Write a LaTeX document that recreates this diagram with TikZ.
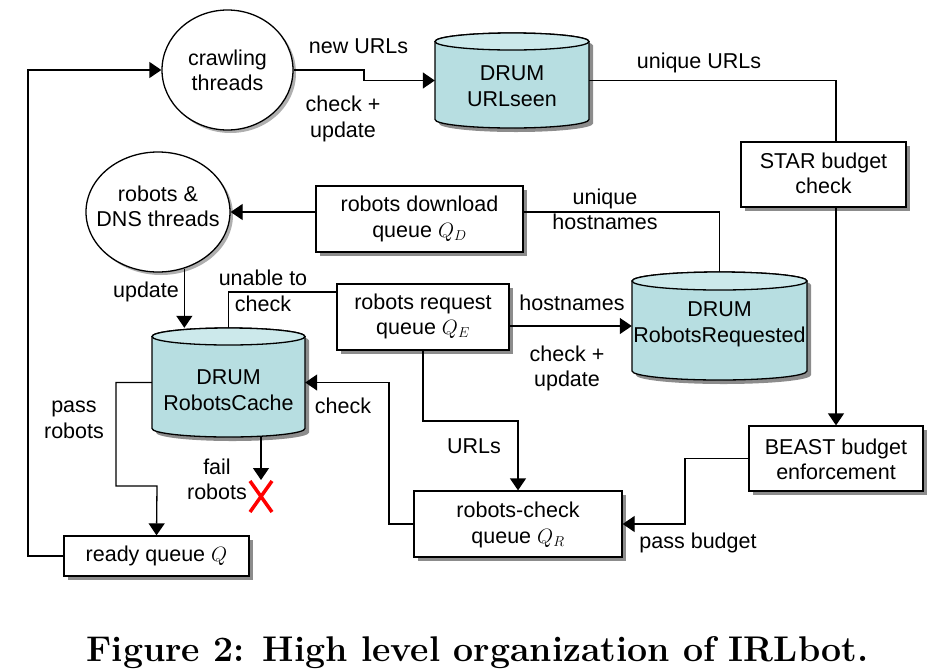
\documentclass[tikz,border=0pt]{standalone}
\usepackage{fontspec}
\newfontfamily\arialf{Liberation Sans}
\usetikzlibrary{shapes.geometric,arrows.meta,shadows,calc}
\definecolor{drumbody}{RGB}{183,222,225}
\definecolor{drumtop}{RGB}{204,233,235}
\definecolor{shcol}{RGB}{140,140,140}
\newcommand\drumcyl[5]{% cx, top, bottom, half width, end radius (px, y downward)
  \fill[shcol] (#1-#4+4,-#2-#5-4) -- (#1-#4+4,-#3+#5-4)
     arc[start angle=180,end angle=360,x radius=#4,y radius=#5]
     -- (#1+#4+4,-#2-#5-4)
     arc[start angle=0,end angle=180,x radius=#4,y radius=#5] -- cycle;
  \draw[ln,fill=drumbody] (#1-#4,-#2-#5) -- (#1-#4,-#3+#5)
     arc[start angle=180,end angle=360,x radius=#4,y radius=#5]
     -- (#1+#4,-#2-#5)
     arc[start angle=0,end angle=180,x radius=#4,y radius=#5] -- cycle;
  \draw[ln,fill=drumtop] (#1,-#2-#5) ellipse[x radius=#4,y radius=#5];
}
\begin{document}
\begin{tikzpicture}[x=1pt,y=1pt,
  ln/.style={line width=1.3pt,line join=miter},
  txt/.style={font=\arialf\fontsize{21.5}{25.5}\selectfont,align=center,inner sep=0pt},
  box/.style={ln,draw,fill=white,rectangle,inner sep=0pt,
     drop shadow={shadow xshift=4pt,shadow yshift=-4pt,fill=shcol,opacity=1}},
  ell/.style={ln,draw,fill=white,ellipse,inner sep=0pt,
     drop shadow={shadow xshift=3pt,shadow yshift=-3pt,fill=shcol!70,opacity=1}},
  inv/.style={rectangle,inner sep=0pt},
  arr/.style={ln,-{Triangle[length=12pt,width=16pt]}},
  lab/.style={txt},
]
\useasboundingbox (0,0) rectangle (933,-670);

% cylinders (drawn shapes) and their named nodes
\drumcyl{512}{33}{128}{77}{8.5}
\drumcyl{719.5}{272}{380}{87.5}{9}
\drumcyl{228.5}{328}{437}{76.5}{8.5}
\node[inv,minimum width=154pt,minimum height=95pt] (us) at (512,-80.5) {};
\node[inv,minimum width=175pt,minimum height=108pt] (rr) at (719.5,-326) {};
\node[inv,minimum width=153pt,minimum height=109pt] (rc) at (228.5,-382.5) {};
\node[txt] at (512,-86) {DRUM\\URLseen};
\node[txt] at (719.5,-324.5) {DRUM\\RobotsRequested};
\node[txt] at (228.5,-390) {DRUM\\RobotsCache};

% ellipses
\node[ell,minimum width=131pt,minimum height=120pt] (ct) at (227.5,-70) {};
\node[txt] at (227.5,-70.5) {crawling\\threads};
\node[ell,minimum width=144pt,minimum height=120pt] (dns) at (158,-212) {};
\node[txt] at (158,-206.5) {robots \&\\DNS threads};

% boxes
\node[box,minimum width=207pt,minimum height=66pt] (rdq) at (419.5,-219) {};
\node[txt] at (419.5,-219) {robots download\\queue $Q_D$};
\node[box,minimum width=172pt,minimum height=66pt] (rrq) at (423,-317) {};
\node[txt] at (423,-316.5) {robots request\\queue $Q_E$};
\node[box,minimum width=165pt,minimum height=65pt] (star) at (823.5,-174.5) {};
\node[txt] at (823.5,-173.5) {STAR budget\\check};
\node[box,minimum width=174pt,minimum height=65pt] (beast) at (836,-458.5) {};
\node[txt] at (836,-459.5) {BEAST budget\\enforcement};
\node[box,minimum width=208pt,minimum height=66pt] (rcq) at (518,-524) {};
\node[txt] at (518,-525) {robots-check\\queue $Q_R$};
\node[box,minimum width=185pt,minimum height=40pt] (ready) at (156.5,-556) {};
\node[txt] at (156.5,-556) {ready queue $Q$};

% connectors
\draw[arr] (ct.east) -- (364,-70) |- (us.west);
\draw[ln] (us.east) -| (beast.north |- star.north);
\draw[arr] (beast.north |- star.south) -- (beast.north);
\draw[arr] (beast.west) -- (685,-458.5) |- (rcq.east);
\draw[arr] (rrq.south) |- (518,-421) -- (rcq.north);
\draw[arr] (rcq.west) -- (389,-524) |- (rc.east);
\draw[arr] (rrq.east |- rr.west) -- (rr.west);
\draw[ln] (rr.north) |- (rdq.east |- dns.east);
\draw[arr] (rdq.west |- dns.east) -- (dns.east);
\draw[arr] (dns.-65) -- (dns.-65 |- rc.north);
\draw[ln] (rc.north) |- (rrq.west |- 0,-292);
\draw[arr] (rc.west) -- (116,-382.5) |- (157,-486) -- (ready.north);
\coordinate (failend) at (261,-480);
\draw[arr] (rc.south -| failend) -- (failend);
\draw[arr] (ready.west) -- (28,-556) |- (ct.west);

% red cross
\draw[red,line width=3.5pt] (250,-481) -- (272,-512) (272,-481) -- (250,-512);

% labels
\node[lab] at (358.5,-46) {new URLs};
\node[lab] at (343,-119) {check +\\update};
\node[lab] at (699,-63) {unique URLs};
\node[lab] at (605,-209.5) {unique\\hostnames};
\node[lab] at (572,-303) {hostnames};
\node[lab] at (567,-368.5) {check +\\update};
\node[lab] at (146,-292) {update};
\node[lab] at (263,-291) {unable to\\check};
\node[lab] at (343,-406) {check};
\node[lab] at (474,-446) {URLs};
\node[lab] at (74,-420) {pass\\robots};
\node[lab] at (217,-479.5) {fail\\robots};
\node[lab] at (698,-543) {pass budget};

% caption
\node[anchor=base,inner sep=0pt,font=\fontsize{35.7}{40}\selectfont\bfseries] (cap) at (477.5,-661) {Figure 2: High level organization of IRLbot.};
\end{tikzpicture}
\end{document}
